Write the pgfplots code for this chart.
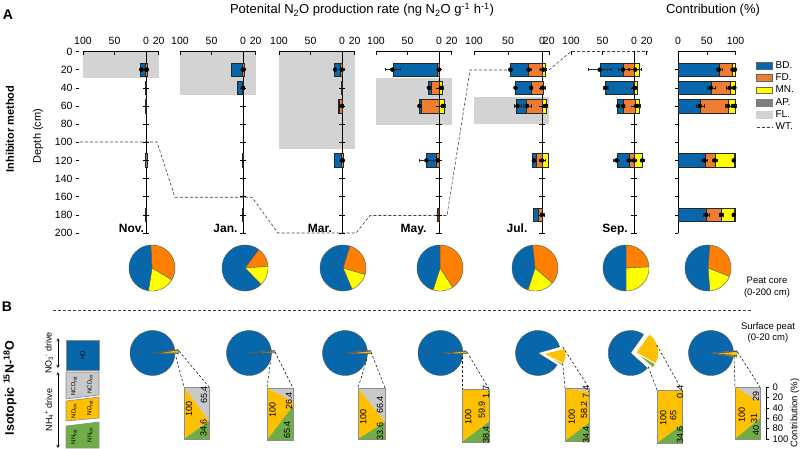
\documentclass[border=0pt]{standalone}
\usepackage{fontspec}
\setmainfont{Liberation Sans}
\usepackage{pgfplots}
\pgfplotsset{compat=1.18}
\definecolor{bd}{HTML}{0867AB}
\definecolor{fd}{HTML}{EE7D31}
\definecolor{pieor}{HTML}{FF8000}
\definecolor{mn}{HTML}{FFFF00}
\definecolor{ap}{HTML}{7F7F7F}
\definecolor{fl}{HTML}{D3D3D3}
\definecolor{gold}{HTML}{FFC000}
\definecolor{grn}{HTML}{70AD47}
\definecolor{ncd}{HTML}{C9C9C9}
\newcommand{\fs}[1]{\fontsize{#1}{#1}\selectfont}
% bar segment: from x=#1 to x=#2 at depth #3, colour #4
\newcommand{\bseg}[4]{%
 \pgfmathsetmacro\blo{#3-7.5}\pgfmathsetmacro\bhi{#3+7.5}%
 \edef\bcmd{\noexpand\addplot[fill=#4, draw=black!85, line width=0.4pt] coordinates {(#1,\blo) (#2,\blo) (#2,\bhi) (#1,\bhi)} -- cycle;}\bcmd}
\newcommand{\errs}[1]{\addplot[black, only marks, mark=none, error bars/.cd, x dir=both, x explicit, error mark=|, error mark options={mark size=1.8pt, black!85, line width=0.35pt}, error bar style={black!85, line width=0.35pt}] coordinates {#1};}
\newcommand{\zline}{\addplot[black, line width=0.5pt] coordinates {(0,0)(0,200)};
 \addplot[black, only marks, mark=-, mark size=3pt, mark options={line width=0.5pt}] coordinates {(0,20)(0,40)(0,60)(0,80)(0,100)(0,120)(0,140)(0,160)(0,180)(0,200)};}
\newcommand{\flood}[2]{\addplot[fill=fl, draw=none] coordinates {(-100,#1)(20,#1)(20,#2)(-100,#2)} -- cycle;}
% pie sector: cx, cy, r, a, b, colour
\newcommand{\sect}[6]{\addplot[fill=#6, draw=black!65, line width=0.4pt, domain=#4:#5, samples=36, variable=\t] ({#1+#3*cos(\t)},{#2-#3*sin(\t)}) -- (#1,#2) -- cycle;}
\newcommand{\sectw}[6]{\addplot[fill=#6, draw=white, line width=0.8pt, domain=#4:#5, samples=36, variable=\t] ({#1+#3*cos(\t)},{#2-#3*sin(\t)}) -- (#1,#2) -- cycle;}
% zoom rectangle: L R T B y1 y2
\newcommand{\rectB}[6]{%
 \addplot[fill=ncd, draw=none] coordinates {(#1,#3)(#2,#3)(#2,#5)} -- cycle;
 \addplot[fill=gold, draw=none] coordinates {(#1,#3)(#2,#5)(#2,#6)(#1,#4)} -- cycle;
 \addplot[fill=grn, draw=none] coordinates {(#1,#4)(#2,#6)(#2,#4)} -- cycle;
 \addplot[draw=black!45, line width=0.9pt] coordinates {(#1,#3)(#2,#3)(#2,#4)(#1,#4)} -- cycle;}
\newcommand{\conn}[4]{\addplot[black, line width=0.5pt, dash pattern=on 2.5pt off 2pt] coordinates {(#1)(#2)}; \addplot[black, line width=0.5pt, dash pattern=on 2.5pt off 2pt] coordinates {(#3)(#4)};}
\pgfplotsset{mon/.style={scale only axis, width=75.6pt, height=181.5pt, xmin=-100, xmax=20, ymin=0, ymax=200, y dir=reverse,
 axis x line=top, axis y line=none, axis line style={-, line width=0.5pt}, xtick={-100,-50,0,20}, xticklabels={100,50,0,20},
 tick align=inside, major tick length=4pt, tick style={black, line width=0.5pt},
 xticklabel style={font=\fs{10.5}, yshift=3pt}, clip=false, axis on top, anchor=south west}}
\begin{document}
\begin{tikzpicture}[x=1pt,y=1pt]
\useasboundingbox (0,0) rectangle (800,449);
% ================= overlay axis in pixel units =================
\begin{axis}[at={(0pt,0pt)}, anchor=south west, scale only axis, width=800pt, height=449pt,
 xmin=0, xmax=800, ymin=0, ymax=449, y dir=reverse, hide axis, clip=false,
 legend cell align=left,
 legend style={at={(0.945,0.867)}, anchor=north west, draw=none, fill=none, inner sep=0pt, row sep=1.4pt, column sep=1.5pt, font=\fs{10}, nodes={inner sep=1.3pt}}]
\addlegendimage{legend image code/.code={\draw[fill=bd, draw=black!60, line width=0.4pt] (0pt,-3.3pt) rectangle (16pt,3.3pt);}}
\addlegendentry{BD.}
\addlegendimage{legend image code/.code={\draw[fill=fd, draw=black!60, line width=0.4pt] (0pt,-3.3pt) rectangle (16pt,3.3pt);}}
\addlegendentry{FD.}
\addlegendimage{legend image code/.code={\draw[fill=mn, draw=black!60, line width=0.4pt] (0pt,-3.3pt) rectangle (16pt,3.3pt);}}
\addlegendentry{MN.}
\addlegendimage{legend image code/.code={\draw[fill=ap, draw=ap, line width=0.4pt] (0pt,-3.3pt) rectangle (16pt,3.3pt);}}
\addlegendentry{AP.}
\addlegendimage{legend image code/.code={\draw[fill=fl, draw=fl, line width=0.4pt] (0pt,-3.3pt) rectangle (16pt,3.3pt);}}
\addlegendentry{FL.}
\addlegendimage{legend image code/.code={\draw[black!75, line width=0.6pt, dash pattern=on 3pt off 2pt] (0pt,0pt) -- (16pt,0pt);}}
\addlegendentry{WT.}
% water table
\addplot[black!75, line width=0.6pt, dash pattern=on 3pt off 2pt] coordinates {(80,142)(157,142)(175,197.3)(252,197.3)(278,233)(356,233)(370,215.5)(447,215.5)(470,70)(549,70)(571,51.5)(648,51.5)};
% separator
\addplot[black!75, line width=0.6pt, dash pattern=on 3pt off 2pt] coordinates {(53,310)(752,310)};
% peat core pies
\sect{152}{268}{23}{-31}{93}{pieor}\sect{152}{268}{23}{-99}{-31}{mn}\sect{152}{268}{23}{93}{261}{bd}
\sect{245}{268}{23}{4}{53.6}{pieor}\sect{245}{268}{23}{-46}{4}{mn}\sect{245}{268}{23}{53.6}{314}{bd}
\sect{343}{268}{23}{-16.6}{73}{pieor}\sect{343}{268}{23}{-67}{-16.6}{mn}\sect{343}{268}{23}{73}{293}{bd}
\sect{440}{268}{23}{-56.8}{90}{pieor}\sect{440}{268}{23}{-107.6}{-56.8}{mn}\sect{440}{268}{23}{90}{252.4}{bd}
\sect{535}{268}{23}{-41}{96}{pieor}\sect{535}{268}{23}{-108}{-41}{mn}\sect{535}{268}{23}{96}{252}{bd}
\sect{626}{268}{23}{2.6}{90}{pieor}\sect{626}{268}{23}{-90}{2.6}{mn}\sect{626}{268}{23}{90}{270}{bd}
\sect{708}{268}{23}{-21.6}{85.7}{pieor}\sect{708}{268}{23}{-85.7}{-21.6}{mn}\sect{708}{268}{23}{85.7}{274.3}{bd}
% surface pies
\sect{152.5}{353}{22.5}{8}{358}{bd}\sect{155.5}{352.8}{23}{-2}{0}{grn}\sect{155.5}{352.8}{23}{0}{6.5}{gold}\sect{155.5}{352.8}{23}{6.5}{8}{black!70}
\sect{249}{353}{22.5}{6}{360}{bd}\sect{252}{352.9}{23}{0}{1}{grn}\sect{252}{352.9}{23}{1}{5}{gold}\sect{252}{352.9}{23}{5}{6}{black!70}
\sect{345}{353}{22.5}{6}{358}{bd}\sect{348}{352.9}{23}{-2}{-1}{grn}\sect{348}{352.9}{23}{-1}{5}{gold}\sect{348}{352.9}{23}{5}{6}{black!70}
\sect{440.5}{353}{22.5}{5}{358}{bd}\sect{443.5}{352.8}{23}{-2}{-1}{grn}\sect{443.5}{352.8}{23}{-1}{4}{gold}\sect{443.5}{352.8}{23}{4}{5}{black!70}
\sect{538}{353}{22.5}{16}{328}{bd}\sectw{543}{353.7}{23}{-32}{-26}{grn}\sectw{543}{353.7}{23}{-26}{14}{gold}\sectw{543}{353.7}{23}{14}{16}{ncd}
\sect{630.7}{353}{22.5}{55}{318}{bd}\sectw{635.7}{352.4}{23}{-42}{-30}{grn}\sectw{635.7}{352.4}{23}{-30}{54}{gold}\sectw{635.7}{352.4}{23}{54}{55}{ncd}
\sect{711}{353}{22.5}{6}{350}{bd}\sect{714}{353.1}{23}{-10}{-6}{grn}\sect{714}{353.1}{23}{-6}{4}{gold}\sect{714}{353.1}{23}{4}{6}{black!70}
% zoom rectangles
\rectB{184}{209}{387}{439}{421}{421}
\rectB{267}{293}{388}{440}{401.7}{406}
\rectB{358}{385}{388}{439}{421.9}{421.9}
\rectB{462}{489}{389}{442}{389.9}{421.6}
\rectB{565}{589}{388}{441}{391.9}{422.8}
\rectB{657}{682}{390}{443}{390.2}{424.7}
\rectB{735}{760}{387}{439}{402.1}{418.2}
% connectors
\conn{176,357}{184,387}{179,351}{209,387}
\conn{271,358}{267,388}{275,352}{293,388}
\conn{367,359}{358,388}{371,352}{385,388}
\conn{462,356.7}{462,389}{467,352}{489,389}
\conn{562.7,363.3}{565,388}{562.7,346.7}{589,388}
\conn{648.3,366.7}{657,390}{656.7,345}{682,390}
\conn{734,356.7}{735,387}{737.3,351.7}{760,387}
% left legend of panel B
\addplot[fill=bd, draw=black!45, line width=0.6pt] coordinates {(66,340)(99,340)(99,370)(66,370)} -- cycle;
\addplot[fill=ncd, draw=black!45, line width=0.6pt] coordinates {(66,372)(99,372)(99,395)(66,399)} -- cycle;
\addplot[fill=gold, draw=black!45, line width=0.6pt] coordinates {(66,401)(99,397)(99,418)(66,421)} -- cycle;
\addplot[fill=grn, draw=black!45, line width=0.6pt] coordinates {(66,426)(99,422)(99,448)(66,448)} -- cycle;
\addplot[black, line width=0.5pt, stealth-stealth] coordinates {(58,338)(58,368)};
\addplot[black, line width=0.5pt, stealth-stealth] coordinates {(58,372)(58,448)};
% texts
\node[font=\bfseries\fs{14}] at (8,15) {A};
\node[font=\bfseries\fs{14}] at (7,307) {B};
\node[font=\fs{13}] at (362,10) {Potenital N\textsubscript{2}O production rate (ng N\textsubscript{2}O g\textsuperscript{-1} h\textsuperscript{-1})};
\node[font=\fs{13}] at (713,10) {Contribution (\%)};
\node[rotate=90, font=\bfseries\fs{11}] at (10,129) {Inhibitor method};
\node[rotate=90, font=\fs{11}] at (38,136) {Depth (cm)};
\node[rotate=90, font=\bfseries\fs{12.5}] at (10,388) {Isotopic \textsuperscript{15}N-\textsuperscript{18}O};
\node[rotate=90, font=\fs{9}] at (49,353) {NO\textsubscript{3}\textsuperscript{-} drive};
\node[rotate=90, font=\fs{9}] at (49,410) {NH\textsubscript{4}\textsuperscript{+} drive};
\node[rotate=90, font=\fs{9.5}] at (795,413) {Contribution (\%)};
\node[font=\fontsize{9.5}{11.6}\selectfont, align=center] at (767,287.5) {Peat core\\(0-200 cm)};
\node[font=\fontsize{9.5}{11.6}\selectfont, align=center] at (768,332.5) {Surface peat\\(0-20 cm)};
\node[anchor=base, font=\bfseries\fs{12}] at (131.5,233) {Nov.};
\node[anchor=base, font=\bfseries\fs{12}] at (225.5,233) {Jan.};
\node[anchor=base, font=\bfseries\fs{12}] at (320,233) {Mar.};
\node[anchor=base, font=\bfseries\fs{12}] at (413.5,233) {May.};
\node[anchor=base, font=\bfseries\fs{12}] at (517,233) {Jul.};
\node[anchor=base, font=\bfseries\fs{12}] at (615,233) {Sep.};
\node[rotate=90, font=\fs{6}] at (82.5,355) {HD};
\node[rotate=90, font=\fs{6}] at (74,386) {NCD\textsubscript{nit}};
\node[rotate=90, font=\fs{6}] at (90,384) {NCD\textsubscript{ox}};
\node[rotate=90, font=\fs{6}] at (74,411) {ND\textsubscript{ox}};
\node[rotate=90, font=\fs{6}] at (90,408) {ND\textsubscript{nit}};
\node[rotate=90, font=\fs{6}] at (74,437) {NN\textsubscript{nit}};
\node[rotate=90, font=\fs{6}] at (90,435) {NN\textsubscript{ox}};
% rectangle values
\begin{scope}[every node/.style={rotate=90, font=\fs{9}, inner sep=0pt}]
\node at (189,409) {100}; \node at (204,395) {65.4}; \node at (203.5,428) {34.6};
\node at (272.5,410) {100}; \node at (289,401) {26.4}; \node at (287,430) {65.4};
\node at (363.3,416.7) {100}; \node at (380,405) {66.4}; \node at (380,431.7) {33.6};
\node at (468.3,416.7) {100}; \node at (481.7,410) {59.9}; \node at (486,392) {1.7}; \node at (486,435) {38.4};
\node at (571.7,416.7) {100}; \node at (584,410) {58.2}; \node at (586,392) {7.4}; \node at (586,435) {34.4};
\node at (663.3,418.3) {100}; \node at (673.3,415) {65}; \node at (680,392) {0.4}; \node at (680,435) {34.6};
\node at (741.7,415) {100}; \node at (754,418.3) {31}; \node at (756,396) {29}; \node at (756,430) {40};
\end{scope}
\end{axis}
% ================= depth axis =================
\begin{axis}[scale only axis, width=0.1pt, height=181.5pt, at={(79pt,216pt)}, anchor=south west,
 xmin=0, xmax=1, ymin=0, ymax=200, y dir=reverse, axis x line=none, axis y line*=left,
 y axis line style={draw=none}, ytick={0,20,...,200}, tick align=outside, major tick length=3pt,
 tick style={black, line width=0.5pt}, yticklabel style={font=\fs{10.5}}, /pgf/number format/assume math mode=true]
\addplot[draw=none] coordinates {(0,0)};
\end{axis}
% ================= Nov =================
\begin{axis}[mon, at={(83pt,216pt)}]
\flood{0}{29}
\zline
\bseg{-9}{-1.5}{20}{bd}\bseg{-1.5}{2}{20}{fd}
\bseg{-1}{1}{40}{ap}\bseg{-0.8}{0.8}{60}{ap}\bseg{-1.5}{1.5}{120}{ap}\bseg{-1}{1}{180}{ap}
\errs{(-7,20) +- (4,0) (1,20) +- (3,0)}
\end{axis}
% ================= Jan =================
\begin{axis}[mon, at={(180pt,216pt)}]
\flood{0}{48}
\zline
\bseg{-18}{-1}{20}{bd}\bseg{-1}{2.5}{20}{fd}
\bseg{-9}{-2}{40}{bd}\bseg{-2}{0.5}{40}{ap}
\bseg{-1.2}{1}{120}{ap}\bseg{-1.2}{1}{180}{ap}
\errs{(0,20) +- (3,0) (0,40) +- (2,0)}
\end{axis}
% ================= Mar =================
\begin{axis}[mon, at={(279pt,216pt)}]
\flood{0}{107.5}
\zline
\bseg{-12}{-2.5}{20}{bd}\bseg{-2.5}{0.5}{20}{fd}
\bseg{-1.5}{0.5}{40}{ap}
\bseg{-6}{-5}{60}{ap}\bseg{-5}{1}{60}{fd}
\bseg{-12}{-2}{120}{bd}\bseg{-2}{1.5}{120}{fd}
\errs{(0,20) +- (3,0) (-11,20) +- (1,0) (0,60) +- (2,0) (0,120) +- (3,0)}
\end{axis}
% ================= May =================
\begin{axis}[mon, at={(376pt,216pt)}]
\flood{29}{81}
\zline
\bseg{-73.5}{-2.7}{20}{bd}\bseg{-2.7}{0.5}{20}{fd}
\bseg{-17}{-12.7}{40}{bd}\bseg{-12.7}{0.5}{40}{fd}\bseg{0.5}{5.2}{40}{mn}
\bseg{-31.7}{-28.5}{60}{bd}\bseg{-28.5}{0.5}{60}{fd}\bseg{0.5}{8}{60}{mn}
\bseg{-21}{-3.7}{120}{bd}\bseg{-3.7}{0}{120}{fd}
\bseg{-3}{0}{180}{fd!55!black}
\errs{(-74,20) +- (12,0) (0,20) +- (2,0) (-16,40) +- (1.5,0) (3,40) +- (3,0) (-31,60) +- (1.5,0) (6,60) +- (3,0) (-20,120) +- (11,0) (-2,120) +- (3,0)}
\end{axis}
% ================= Jul =================
\begin{axis}[mon, width=74.8pt, xmax=10, xtick={-100,-50,0,10}, at={(474pt,216pt)}]
\addplot[fill=fl, draw=none] coordinates {(-100,50)(10,50)(10,80)(-100,80)} -- cycle;
\zline
\bseg{-46.6}{-19.6}{20}{bd}\bseg{-19.6}{0.9}{20}{fd}\bseg{0.9}{4.9}{20}{mn}
\bseg{-39.7}{-16.2}{40}{bd}\bseg{-16.2}{2.4}{40}{fd}
\bseg{-37.8}{-22.6}{60}{bd}\bseg{-22.6}{0}{60}{fd}\bseg{0}{6.8}{60}{mn}
\bseg{-13.8}{-8.8}{120}{bd}\bseg{-8.8}{0}{120}{fd}\bseg{0}{9.7}{120}{mn}
\bseg{-13.2}{-5.9}{180}{bd}\bseg{-5.9}{0.9}{180}{fd}
\errs{(-46.6,20) +- (2,0) (-19.6,20) +- (3,0) (2,20) +- (4,0) (-39,40) +- (1,0) (-16,40) +- (2,0) (1,40) +- (3,0) (-36,60) +- (5,0) (-22,60) +- (6,0) (5,60) +- (3,0) (-12,120) +- (3,0) (0,120) +- (4,0) (0,180) +- (3,0)}
\end{axis}
% ================= Sep =================
\begin{axis}[mon, at={(571pt,216pt)}, x axis line style={draw=none}]
\zline
\bseg{-54.4}{-17.5}{20}{bd}\bseg{-17.5}{0}{20}{fd}\bseg{0}{9}{20}{mn}
\bseg{-46}{-2}{40}{bd}\bseg{-2}{0}{40}{fd}\bseg{0}{5.3}{40}{mn}
\bseg{-25.9}{-17.5}{60}{bd}\bseg{-17.5}{1.1}{60}{fd}\bseg{1.1}{9}{60}{mn}
\bseg{-27}{-8}{120}{bd}\bseg{-8}{0}{120}{fd}\bseg{0}{13.4}{120}{mn}
\errs{(-54.5,20) +- (17.5,0) (-17.5,20) +- (8,0) (2,20) +- (10,0) (-45,40) +- (4,0) (1,40) +- (3,0) (-25,60) +- (2,0) (-17,60) +- (1,0) (5,60) +- (5,0) (-28,120) +- (5,0) (-8,120) +- (4,0) (0,120) +- (3,0) (13,120) +- (3,0)}
\end{axis}
% ================= Contribution =================
\begin{axis}[mon, width=57.5pt, xmin=0, xmax=100, xtick={0,50,100}, xticklabels={0,50,100}, at={(678pt,216pt)}]
\addplot[black, line width=0.5pt] coordinates {(0,0)(0,200)};
\addplot[black, only marks, mark=-, mark size=1.6pt, xshift=-1.6pt, mark options={line width=0.5pt}] coordinates {(0,20)(0,40)(0,60)(0,80)(0,100)(0,120)(0,140)(0,160)(0,180)(0,200)};
\bseg{0}{71}{20}{bd}\bseg{71}{95}{20}{fd}\bseg{95}{99.5}{20}{mn}\bseg{99.5}{100}{20}{ap}
\bseg{0}{57.6}{40}{bd}\bseg{57.6}{90}{40}{fd}\bseg{90}{100}{40}{mn}
\bseg{0}{37.8}{60}{bd}\bseg{37.8}{86.6}{60}{fd}\bseg{86.6}{100}{60}{mn}
\bseg{0}{46.5}{120}{bd}\bseg{46.5}{64}{120}{fd}\bseg{64}{98}{120}{mn}\bseg{98}{100}{120}{ap}
\bseg{0}{49}{180}{bd}\bseg{49}{75}{180}{fd}\bseg{75}{97}{180}{mn}\bseg{97}{100}{180}{ap}
\errs{(71,20) +- (5,0) (95,20) +- (3,0) (99,20) +- (2,0) (57,40) +- (7,0) (90,40) +- (6,0) (98,40) +- (2,0) (38,60) +- (7,0) (87,60) +- (5,0) (98,60) +- (3,0) (46,120) +- (5,0) (64,120) +- (4,0) (97,120) +- (3,0) (49,180) +- (5,0) (75,180) +- (4,0) (97,180) +- (3,0)}
\end{axis}
% ================= right axis of panel B =================
\begin{axis}[scale only axis, width=0.1pt, height=52pt, at={(766pt,10pt)}, anchor=south west,
 xmin=0, xmax=1, ymin=0, ymax=100, y dir=reverse, axis x line=none, axis y line*=right,
 axis line style={-, line width=0.5pt}, ytick={0,20,...,100}, tick align=outside, major tick length=3pt,
 tick style={black, line width=0.5pt}, yticklabel style={font=\fs{9.5}}, /pgf/number format/assume math mode=true]
\addplot[draw=none] coordinates {(0,0)};
\end{axis}
\end{tikzpicture}
\end{document}
